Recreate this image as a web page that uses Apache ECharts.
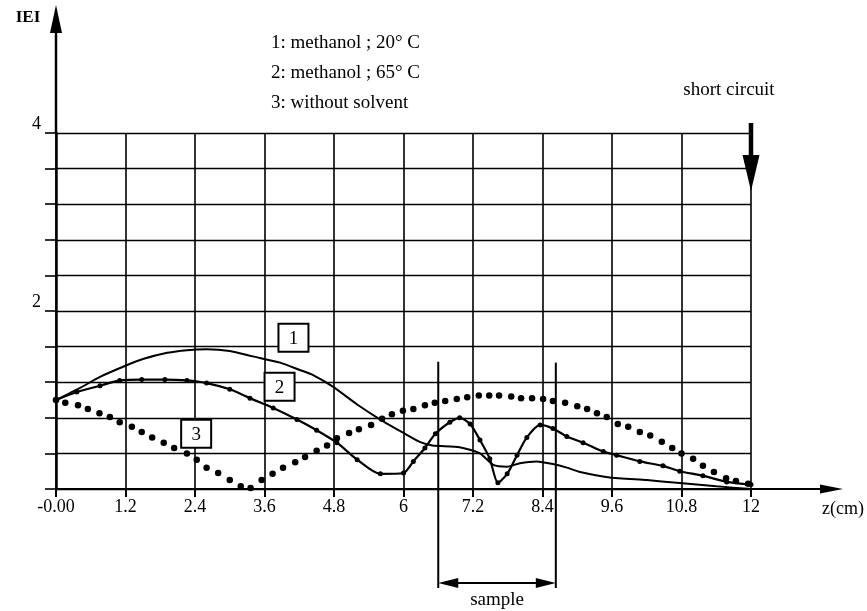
<!DOCTYPE html>
<html><head><meta charset="utf-8">
<script src="https://cdn.jsdelivr.net/npm/echarts@6/dist/echarts.min.js"></script>
<style>html,body{margin:0;padding:0;background:#fff}#c{width:867px;height:611px}</style>
</head><body><div id="c"></div>
<script>
// ---- data ----
const xTickLabels = ['-0.00','1.2','2.4','3.6','4.8','6','7.2','8.4','9.6','10.8','12'];
const yTickLabels = ['','','','','','2','','','','','4'];
const legendLines = ['1: methanol ; 20° C','2: methanol ; 65° C','3: without solvent'];
const curve1 = [[0,1.0],[0.4,1.13],[0.76,1.26],[1.22,1.39],[1.5,1.46],[1.92,1.53],[2.26,1.56],[2.6,1.57],[3.0,1.55],[3.4,1.49],[3.87,1.42],[4.2,1.34],[4.44,1.28],[4.78,1.15],[5.2,0.95],[5.6,0.78],[6.0,0.63],[6.28,0.53],[6.5,0.49],[6.97,0.47],[7.32,0.4],[7.55,0.27],[7.79,0.25],[8.01,0.29],[8.3,0.31],[8.58,0.28],[8.82,0.24],[9.05,0.19],[9.56,0.13],[10.2,0.1],[10.72,0.07],[11.4,0.03],[12,0.0]];
const curve2 = [[0,1.0],[0.36,1.09],[0.76,1.16],[1.1,1.22],[1.48,1.23],[1.88,1.23],[2.26,1.22],[2.6,1.19],[3.0,1.12],[3.35,1.02],[3.75,0.91],[4.16,0.78],[4.5,0.66],[4.85,0.52],[5.2,0.33],[5.6,0.17],[6.0,0.18],[6.17,0.31],[6.37,0.46],[6.55,0.62],[6.8,0.75],[6.97,0.8],[7.15,0.73],[7.32,0.55],[7.49,0.34],[7.63,0.07],[7.79,0.17],[7.96,0.38],[8.13,0.58],[8.36,0.72],[8.58,0.68],[8.82,0.59],[9.1,0.52],[9.45,0.42],[9.68,0.38],[10.08,0.31],[10.48,0.26],[10.77,0.2],[11.17,0.15],[11.58,0.08],[12,0.05]];
const curve3 = [[0,1.0],[0.16,0.97],[0.38,0.94],[0.55,0.9],[0.75,0.85],[0.93,0.81],[1.1,0.75],[1.31,0.7],[1.48,0.64],[1.66,0.58],[1.86,0.52],[2.04,0.46],[2.26,0.4],[2.43,0.33],[2.6,0.24],[2.8,0.18],[3.0,0.1],[3.19,0.03],[3.36,0.01],[3.55,0.1],[3.74,0.17],[3.92,0.24],[4.13,0.3],[4.3,0.36],[4.5,0.43],[4.68,0.49],[4.85,0.57],[5.06,0.63],[5.23,0.67],[5.44,0.72],[5.63,0.79],[5.8,0.84],[5.99,0.88],[6.17,0.9],[6.37,0.94],[6.54,0.97],[6.72,0.99],[6.92,1.01],[7.1,1.03],[7.3,1.05],[7.48,1.05],[7.65,1.05],[7.86,1.04],[8.03,1.02],[8.22,1.02],[8.41,1.01],[8.58,0.99],[8.79,0.97],[9.0,0.93],[9.17,0.9],[9.34,0.85],[9.51,0.81],[9.7,0.73],[9.88,0.7],[10.08,0.64],[10.26,0.6],[10.46,0.53],[10.64,0.46],[10.8,0.4],[11.0,0.34],[11.17,0.26],[11.36,0.19],[11.57,0.12],[11.74,0.09],[11.95,0.06]];
const sampleZ = [6.6, 8.63];
const shortCircuitZ = 12;

// ---- chart ----
const FONT = '"Liberation Serif","Times New Roman",serif';
const dom = document.getElementById('c');
const chart = echarts.init(dom, null, {renderer:'canvas'});
const option = {
  animation:false,
  backgroundColor:'#fff',
  grid:{left:56, top:133, width:695, height:356},
  xAxis:{type:'value', min:0, max:12, interval:1.2,
    axisLine:{show:true, onZero:false, lineStyle:{color:'#000', width:2}},
    axisTick:{show:true, length:8, lineStyle:{color:'#000', width:2}},
    splitLine:{show:true, lineStyle:{color:'#000', width:1.6}},
    axisLabel:{color:'#000', fontFamily:FONT, fontSize:18, margin:9,
      formatter:v=>xTickLabels[Math.round(v/1.2)]}},
  yAxis:{type:'value', min:0, max:4, interval:0.4,
    axisLine:{show:true, onZero:false, lineStyle:{color:'#000', width:2.5}},
    axisTick:{show:true, length:11, lineStyle:{color:'#000', width:1.6}},
    splitLine:{show:true, lineStyle:{color:'#000', width:1.4}},
    axisLabel:{color:'#000', fontFamily:FONT, fontSize:18, margin:15, verticalAlign:'bottom', padding:[0,0,0,0],
      formatter:v=>yTickLabels[Math.round(v/0.4)]}},
  series:[
    {name:'1: methanol ; 20° C', type:'line', data:curve1, showSymbol:false, symbol:'none', smooth:0.2,
      lineStyle:{color:'#000', width:2}, z:5},
    {name:'2: methanol ; 65° C', type:'line', data:curve2, symbol:'circle', symbolSize:5, showSymbol:true, smooth:0.25,
      itemStyle:{color:'#000', opacity:1}, lineStyle:{color:'#000', width:2.2}, z:6},
    {name:'3: without solvent', type:'scatter', data:curve3, symbol:'circle', symbolSize:6.5,
      itemStyle:{color:'#000', opacity:1}, z:7}
  ]
};
chart.setOption(option);

const P = (x,y)=>chart.convertToPixel({gridIndex:0},[x,y]);
const g = [];
const line = (x1,y1,x2,y2,w)=>g.push({type:'line', shape:{x1,y1,x2,y2}, style:{stroke:'#000', lineWidth:w}, z:20});
const tri = (pts)=>g.push({type:'polygon', shape:{points:pts}, style:{fill:'#000'}, z:20});
const txt = (x,y,t,opt)=>g.push({type:'text', x, y, style:Object.assign({text:t, fill:'#000', font:'19px '+FONT, textAlign:'left', textVerticalAlign:'middle'}, opt||{}), z:21});

const o = P(0,0), top4 = P(0,4), xEnd = P(12,0);
// y axis extension with arrow
line(o[0], top4[1], o[0], 28, 2.5);
tri([[o[0],5],[o[0]-6,33],[o[0]+6,33]]);
txt(28, 18, 'IEI', {font:'bold 17px '+FONT, textAlign:'center'});
// x axis extension with arrow
line(xEnd[0], xEnd[1], 826, xEnd[1], 2);
tri([[843,xEnd[1]],[820,xEnd[1]-4.5],[820,xEnd[1]+4.5]]);
txt(843, 509, 'z(cm)', {font:'18px '+FONT, textAlign:'center'});
// legend text
legendLines.forEach((t,i)=>txt(271, 43+i*30, t, {font:'19px '+FONT}));
// short circuit
const sc = P(shortCircuitZ, 4);
txt(sc[0]-22, 90, 'short circuit', {font:'19px '+FONT, textAlign:'center'});
line(sc[0], 123, sc[0], 160, 4.5);
tri([[sc[0],191],[sc[0]-8.5,155],[sc[0]+8.5,155]]);
// sample markers
const s1 = P(sampleZ[0], 1.43), s2 = P(sampleZ[1], 1.42);
line(s1[0], s1[1], s1[0], 588, 2);
line(s2[0], s2[1], s2[0], 588, 2);
line(s1[0]+10, 583, s2[0]-10, 583, 2);
tri([[s1[0],583],[s1[0]+20,578],[s1[0]+20,588]]);
tri([[s2[0],583],[s2[0]-20,578],[s2[0]-20,588]]);
txt((s1[0]+s2[0])/2, 600, 'sample', {font:'19px '+FONT, textAlign:'center'});
// boxed curve ids
[[4.10,1.70,'1'],[3.86,1.15,'2'],[2.42,0.62,'3']].forEach(b=>{
  const p = P(b[0], b[1]);
  g.push({type:'rect', shape:{x:p[0]-15, y:p[1]-14, width:30, height:28}, style:{fill:'#fff', stroke:'#000', lineWidth:2}, z:22});
  g.push({type:'text', x:p[0], y:p[1]+1, style:{text:b[2], fill:'#000', font:'19px '+FONT, textAlign:'center', textVerticalAlign:'middle'}, z:23});
});
chart.setOption({graphic:g});
</script>
</body></html>
